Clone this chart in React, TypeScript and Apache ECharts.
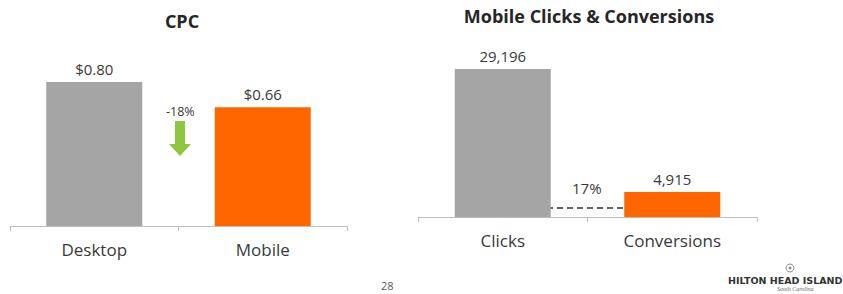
import React, { useEffect, useRef } from "react";
import * as echarts from "echarts";

const cpcCategories = ["Desktop", "Mobile"];
const cpcValues = [0.8, 0.66];
const cpcLabels = ["$0.80", "$0.66"];
const mobileCategories = ["Clicks", "Conversions"];
const mobileValues = [29196, 4915];
const cpcChange = "-18%";
const conversionRate = "17%";
const barColors = ["#A5A5A5", "#FF6600"];

const FONT = "'Open Sans', 'Noto Sans', sans-serif";
const TEXT = "#3A3A3A";

export default function App() {
  const ref = useRef<HTMLDivElement>(null);
  useEffect(() => {
    const chart = echarts.init(ref.current!, undefined, { renderer: "svg" });
    const catAxis = (gridIndex: number, data: string[]) => ({
      type: "category",
      gridIndex,
      data,
      axisLine: { lineStyle: { color: "#BFBFBF", width: 1 } },
      axisTick: { show: true, length: 5, lineStyle: { color: "#BFBFBF" } },
      axisLabel: { color: TEXT, fontSize: 17, fontFamily: FONT, margin: 15 },
    });
    const valAxis = (gridIndex: number, max: number) => ({
      type: "value",
      gridIndex,
      min: 0,
      max,
      show: false,
      splitLine: { show: false },
    });
    chart.setOption({
      animation: false,
      title: [
        {
          text: "CPC",
          left: 177,
          top: 7,
          textAlign: "center",
          textStyle: { fontFamily: FONT, fontSize: 18, fontWeight: "bold", color: "#262626" },
        },
        {
          text: "Mobile Clicks & Conversions",
          left: 584,
          top: 2,
          textAlign: "center",
          textStyle: { fontFamily: FONT, fontSize: 18, fontWeight: "bold", color: "#262626" },
        },
      ],
      grid: [
        { left: 10, width: 337, top: 46, height: 180 },
        { left: 418, width: 339, top: 65, height: 152 },
      ],
      xAxis: [catAxis(0, cpcCategories), catAxis(1, mobileCategories)],
      yAxis: [valAxis(0, 1.0), valAxis(1, 30000)],
      series: [
        {
          type: "bar",
          xAxisIndex: 0,
          yAxisIndex: 0,
          barWidth: 96,
          data: cpcValues.map((v, i) => ({
            value: v,
            itemStyle: { color: barColors[i] },
            label: { formatter: cpcLabels[i] },
          })),
          label: {
            show: true,
            position: "top",
            distance: 6,
            color: TEXT,
            fontSize: 15,
            fontFamily: FONT,
          },
        },
        {
          type: "bar",
          xAxisIndex: 1,
          yAxisIndex: 1,
          barWidth: 96,
          data: mobileValues.map((v, i) => ({ value: v, itemStyle: { color: barColors[i] } })),
          label: {
            show: true,
            position: "top",
            distance: 6,
            color: TEXT,
            fontSize: 15,
            fontFamily: FONT,
            formatter: (p: any) => Number(p.value).toLocaleString("en-US"),
          },
        },
      ],
      graphic: [
        {
          type: "text",
          left: 166,
          top: 105,
          style: { text: cpcChange, fontSize: 12.5, fontFamily: FONT, fill: TEXT },
        },
        {
          type: "polygon",
          shape: {
            points: [
              [175, 121],
              [185, 121],
              [185, 144],
              [191, 144],
              [180, 156],
              [169, 144],
              [175, 144],
            ],
          },
          style: { fill: "#8DC63F" },
        },
        {
          type: "line",
          shape: { x1: 547, y1: 208, x2: 624, y2: 208 },
          style: { stroke: "#333333", lineWidth: 1.5, lineDash: [6, 4] },
        },
        {
          type: "text",
          left: 572,
          top: 180,
          style: { text: conversionRate, fontSize: 15, fontFamily: FONT, fill: TEXT },
        },
        {
          type: "text",
          left: 381,
          top: 280,
          style: { text: "28", fontSize: 11, fontFamily: FONT, fill: "#595959" },
        },
        {
          type: "circle",
          shape: { cx: 790, cy: 268, r: 4 },
          style: { fill: "none", stroke: "#8A8A8A", lineWidth: 1 },
        },
        {
          type: "circle",
          shape: { cx: 790, cy: 268, r: 1.5 },
          style: { fill: "#8A8A8A" },
        },
        {
          type: "text",
          left: 728,
          top: 275,
          style: {
            text: "HILTON HEAD ISLAND",
            fontSize: 9.5,
            fontWeight: "bold",
            fontFamily: "'DejaVu Sans', sans-serif",
            fill: "#333333",
          },
        },
        {
          type: "text",
          left: 777,
          top: 286,
          style: {
            text: "South Carolina",
            fontSize: 6,
            fontStyle: "italic",
            fontFamily: "serif",
            fill: "#666666",
          },
        },
      ],
    });
    return () => chart.dispose();
  }, []);
  return (
    <div
      ref={ref}
      style={{ position: "fixed", left: 0, top: 0, width: 843, height: 294, background: "#fff" }}
    />
  );
}
